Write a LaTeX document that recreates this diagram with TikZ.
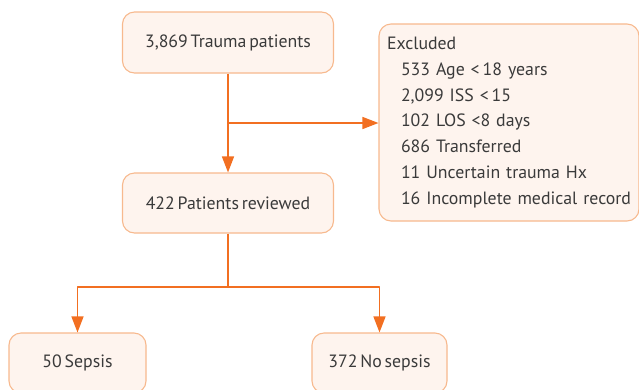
\documentclass[tikz,border=0pt]{standalone}
\usepackage{fontspec}
\setmainfont{PT Sans}[WordSpace=0.6]
\usetikzlibrary{arrows.meta,positioning}
\definecolor{boxfill}{HTML}{FEF4EE}
\definecolor{boxline}{HTML}{F7B98E}
\definecolor{arrline}{HTML}{F26F21}
\definecolor{txt}{HTML}{3A3A3A}
\begin{document}
\begin{tikzpicture}[x=1pt, y=-1pt, line join=round, >={Triangle[length=16pt,width=12pt]}]
	\tikzset{box/.style={draw=boxline, fill=boxfill, line width=1.1pt, rounded corners=12pt, text=txt, font=\fontsize{17.8}{25.7}\selectfont}}
	\tikzset{arr/.style={draw=arrline, line width=1.4pt}}
	\def\ind{\hspace*{16pt}}
	\useasboundingbox (0,0) rectangle (639,389);
	\node[box, minimum width=211pt, minimum height=61pt] (trauma) at (228,42.5) {3,869 Trauma patients};
	\node[box, minimum width=211pt, minimum height=60pt] (reviewed) at (228,203) {422 Patients reviewed};
	\node[box, text width=248pt, inner xsep=6pt, align=left, minimum height=197pt] (excluded) at (509,122.5) {\hspace*{2pt}Excluded\\
		\ind 533 Age <\,18 years\\
		\ind 2,099 ISS <\,15\\
		\ind 102 LOS <8 days\\
		\ind 686 Transferred\\
		\ind 11 Uncertain trauma Hx\\
		\ind 16 Incomplete medical record};
	\node[box, minimum width=137pt, minimum height=60pt] (sepsis) at (77.5,363) {50 Sepsis};
	\node[box, minimum width=135pt, minimum height=60pt] (nosepsis) at (379.5,363) {372 No sepsis};
	\coordinate (split) at (228,123);
	\coordinate (fork) at (228,287);
	\draw[arr,->] (trauma) -- (reviewed);
	\draw[arr,->] (split) -- (split -| excluded.west);
	\draw[arr] (reviewed) -- (fork);
	\draw[arr,->] (fork) -| (sepsis);
	\draw[arr,->] (fork) -| (nosepsis);
\end{tikzpicture}
\end{document}
